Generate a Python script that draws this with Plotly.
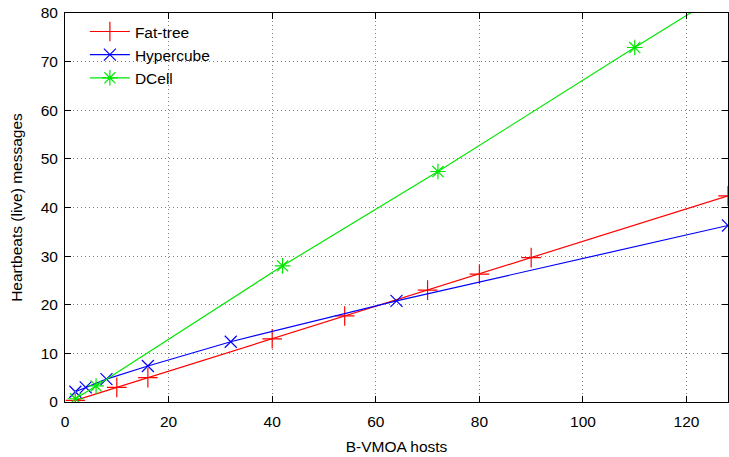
import plotly.graph_objects as go

# Data
fat_x = [2, 10, 16, 40, 54, 70, 80, 90, 128]
fat_y = [0.33, 3.0, 5.0, 13.0, 17.7, 23.0, 26.3, 29.7, 42.4]

hyp_x = [2, 4, 8, 16, 32, 64, 128]
hyp_y = [2.1, 3.0, 4.7, 7.4, 12.4, 20.8, 36.3]

dcell_x = [2, 6, 42, 72, 110, 156]
dcell_y = [0.67, 3.3, 28.0, 47.4, 72.9, 103.3]

x_ticks = [0, 20, 40, 60, 80, 100, 120]
y_ticks = [0, 10, 20, 30, 40, 50, 60, 70, 80]

FONT = "Liberation Sans, Arial, Helvetica, sans-serif"
FS = 15.5

fig = go.Figure()

fig.add_trace(go.Scatter(
    x=fat_x, y=fat_y, name="Fat-tree", mode="lines+markers",
    line=dict(color="#ff0000", width=1.2),
    marker=dict(symbol="cross-thin", size=14, color="#ff0000",
                line=dict(color="#ff0000", width=1.2)),
))
fig.add_trace(go.Scatter(
    x=hyp_x, y=hyp_y, name="Hypercube", mode="lines+markers",
    line=dict(color="#0000ff", width=1.2),
    marker=dict(symbol="x-thin", size=12, color="#0000ff",
                line=dict(color="#0000ff", width=1.2)),
))
fig.add_trace(go.Scatter(
    x=dcell_x, y=dcell_y, name="DCell", mode="lines+markers",
    line=dict(color="#00e600", width=1.2),
    marker=dict(symbol="asterisk", size=13, color="#00e600",
                line=dict(color="#00e600", width=1.2)),
))

axis_common = dict(
    showline=True, linecolor="black", linewidth=1, mirror="allticks",
    ticks="inside", ticklen=6, tickcolor="black", tickwidth=1,
    showgrid=True, gridcolor="#808080", gridwidth=1, griddash="1px,3px",
    zeroline=False, automargin=False,
    tickfont=dict(family=FONT, size=FS, color="black"),
)

fig.update_xaxes(
    range=[0, 128], tickvals=x_ticks, ticktext=[str(v) for v in x_ticks],
    ticklabelstandoff=5,
    title=dict(text="B-VMOA hosts", font=dict(family=FONT, size=FS, color="black"), standoff=12),
    **axis_common,
)
fig.update_yaxes(
    range=[0, 80], tickvals=y_ticks, ticktext=[str(v) for v in y_ticks],
    ticklabelstandoff=3,
    title=dict(text="Heartbeats (live) messages", font=dict(family=FONT, size=FS, color="black"), standoff=14),
    **axis_common,
)

fig.update_layout(
    width=729, height=457,
    margin=dict(l=65, r=1, t=13, b=55),
    paper_bgcolor="white", plot_bgcolor="white",
    font=dict(family=FONT, size=FS, color="black"),
    legend=dict(
        x=0.03, y=0.995, xanchor="left", yanchor="top",
        bgcolor="rgba(255,255,255,0)", borderwidth=0,
        font=dict(family=FONT, size=FS, color="black"),
        tracegroupgap=0, itemwidth=40,
    ),
    showlegend=True,
)

fig.write_html(
    "out.html",
    config={"displayModeBar": False},
    post_script="document.body.style.margin='0';document.body.style.padding='0';",
)
